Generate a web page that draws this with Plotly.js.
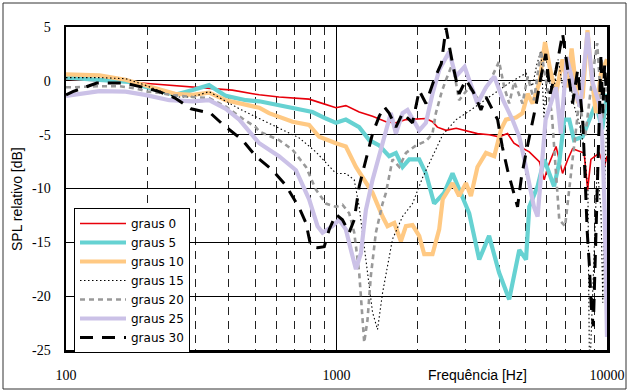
<!DOCTYPE html>
<html>
<head>
<meta charset="utf-8">
<script src="https://cdn.plot.ly/plotly-3.0.1.min.js"></script>
<style>
html,body{margin:0;padding:0;background:#fff;}
#chart{width:629px;height:392px;}
</style>
</head>
<body>
<div id="chart"></div>
<script>
// ---------- DATA ----------
const seriesNames = ['graus 0','graus 5','graus 10','graus 15','graus 20','graus 25','graus 30'];

const f0 = [100,130,166,200,294,412,490,518,613,792,863,995,1083,1213,1359,1523,1658,1806,2141,2264,2360,2540,2770,3010,3320,3670,3990,4290,4530,4740,5160,5620,5860,6040,6480,6850,7160,7460,8230,8480,8720,9360,9770,10000];
const v0 = [0.15,0.05,-0.1,-0.25,-0.55,-0.86,-1.2,-1.3,-1.5,-1.7,-2.0,-2.5,-2.3,-2.9,-3.3,-3.8,-3.9,-3.6,-3.5,-3.8,-4.3,-4.6,-4.4,-4.6,-4.9,-5.0,-5.2,-4.9,-5.8,-6.1,-6.6,-7.5,-9.2,-8.0,-6.1,-8.6,-7.3,-6.3,-6.7,-10.1,-7.3,-6.7,-8.0,-7.0];

const f5 = [100,133,171,196,253,294,338,390,463,518,613,728,815,914,995,1083,1213,1321,1438,1565,1658,1755,1857,2022,2141,2296,2500,2685,2885,3095,3370,3665,3990,4350,4740,5020,5160,5540,5860,6370,6660,6950,7250,7550,8120,8600,9100,9600,10000];
const v5 = [0.3,0.06,-0.1,-0.55,-1.3,-0.86,-0.4,-1.4,-1.8,-1.9,-2.25,-2.7,-2.9,-3.5,-3.9,-3.6,-4.3,-5.5,-6.0,-7.0,-6.7,-8.0,-7.3,-7.3,-8.6,-11.4,-10.4,-8.6,-10.4,-12.3,-16.6,-14.4,-17.8,-20.3,-15.7,-16.6,-11.7,-9.8,-7.3,-9.8,-7.6,-3.6,-3.6,-5.5,-5.2,-3.6,-2.1,-4.5,-1.2];

const f10 = [100,133,166,196,253,294,338,390,463,518,563,688,792,863,995,1083,1180,1284,1359,1480,1544,1635,1730,1806,1910,2022,2110,2264,2397,2470,2685,2840,3010,3140,3320,3570,3830,4060,4230,4610,4870,5090,5310,5620,5900,6170,6480,6850,7160,7400,7790,8130,8470,8720,9100,9500,9900,10000];
const v10 = [0.6,0.5,0.1,-0.4,-1.2,-1.3,-1.1,-1.8,-2.25,-2.5,-3.0,-3.8,-4.1,-5.2,-5.8,-6.1,-8.0,-9.5,-10.4,-12.6,-13.5,-13.2,-14.9,-13.5,-13.4,-14.4,-16.1,-16.1,-13.8,-11.0,-9.5,-10.7,-9.5,-10.7,-8.0,-6.7,-7.0,-4.5,-3.6,-3.4,-3.0,-1.2,-2.1,-0.2,3.6,1.0,-1.2,2.0,-0.6,3.0,-1.8,-1.5,4.7,1.0,-3.0,0.7,1.9,2.0];

const f15 = [100,133,166,196,253,294,338,390,437,518,613,728,839,914,995,1083,1163,1213,1266,1321,1359,1418,1480,1544,1611,1755,1910,2080,2264,2470,2770,3100,3670,4000,4350,4700,5020,5300,5500,5700,5850,6000,6300,6600,6900,7200,7500,7900,8200,8500,8600,8700,8900,9200,9500,9650,9800,10000];
const v15 = [0.3,0.3,0.2,-0.4,-1.5,-1.5,-1.0,-1.9,-2.6,-3.5,-4.4,-5.3,-6.6,-7.6,-8.6,-8.6,-9.2,-11.7,-15.4,-19.4,-21.5,-23.1,-19.7,-17.2,-14.7,-12.6,-11.4,-9.0,-7.0,-5.0,-3.6,-2.8,-1.5,-0.8,-0.2,0.3,0.7,-0.5,1.5,2.8,-3.5,1.0,-1.5,2.0,-1.0,1.5,-2.0,-4.0,-6.0,-10.0,-25.0,-25.0,-18.0,-8.0,-12.0,-20.6,-10.0,-3.0];

const f20 = [100,106,130,158,180,200,221,241,294,338,390,449,503,518,613,688,771,839,914,995,1052,1114,1163,1213,1266,1302,1340,1398,1480,1523,1611,1706,1806,1966,2141,2264,2330,2450,2540,2685,2840,3095,3370,3715,3990,4170,4350,4540,4870,5090,5370,5700,5940,6250,6660,7000,7460,7900,8300,8800,9200,9600,10000];
const v20 = [-0.6,-0.6,-0.5,-0.5,-0.7,-1.0,-1.1,-1.3,-1.5,-1.6,-2.4,-3.5,-4.3,-4.7,-5.5,-6.4,-8.0,-10.1,-11.4,-11.7,-11.5,-12.3,-14.1,-17.8,-24.3,-22.2,-18.1,-14.1,-11.4,-10.4,-7.3,-8.0,-6.7,-6.0,-5.6,-4.9,-3.0,-1.0,0.1,1.6,-1.8,-0.6,-1.8,0.1,1.8,-0.6,-2.1,-0.1,-2.1,0.4,-1.8,2.8,0.1,-3.0,-12.9,-13.5,-7.3,-1.8,-5.2,0.1,3.5,-3.6,-0.6];

const f25 = [100,133,166,196,241,294,338,390,437,463,518,613,708,792,851,888,966,1023,1083,1130,1180,1231,1284,1359,1438,1523,1588,1658,1755,1830,2022,2141,2264,2397,2610,2760,2975,3320,3570,3830,4130,4470,4740,4950,5370,5540,5700,5930,6480,6750,7100,7550,7960,8470,8850,9350,9600,9800,10000];
const v25 = [-1.4,-0.95,-1.0,-1.3,-1.8,-1.9,-1.8,-2.6,-3.6,-4.4,-5.8,-7.0,-8.3,-11.0,-13.5,-14.1,-13.5,-12.9,-13.8,-15.7,-17.5,-16.0,-12.0,-9.2,-7.0,-4.9,-3.0,-4.9,-3.0,-2.7,-4.6,-3.9,-1.2,1.0,2.7,0.4,1.3,-2.1,-0.6,0.4,-1.8,-3.6,-5.2,-7.3,-11.7,-12.6,-8.9,-3.6,-0.6,-4.9,2.2,-0.6,-2.4,4.5,-0.2,-2.1,-5.2,-12.0,-23.8];

const f30 = [100,106,130,163,193,221,253,290,342,382,449,503,580,650,728,771,804,851,901,940,995,1052,1114,1163,1213,1284,1359,1438,1500,1565,1658,1755,1910,2022,2141,2295,2440,2540,2685,2840,3010,3200,3420,3570,3940,4100,4290,4670,4830,5020,5240,5480,5700,5940,6170,6480,6850,7160,7460,7790,8130,8300,8450,8600,8750,8900,9050,9200,9350,9500,9650,9800,10000];
const v30 = [-1.3,-1.0,-0.2,-0.2,-0.6,-1.0,-1.6,-2.6,-3.0,-4.1,-5.5,-7.0,-8.3,-9.7,-11.8,-13.2,-15.4,-15.5,-15.4,-13.8,-12.4,-12.9,-14.1,-12.9,-9.8,-7.3,-4.9,-3.3,-2.4,-3.0,-4.3,-3.0,-3.9,-0.9,-2.1,0.1,1.6,4.9,1.6,-1.2,0.1,-1.0,-2.7,-1.5,-3.6,-6.1,-8.3,-11.7,-8.9,-6.7,-4.6,-2.1,0.4,2.5,-1.2,1.0,4.4,1.0,-2.1,1.0,-3.6,-9.0,-14.0,-17.0,-21.0,-22.8,-17.0,-10.0,-4.0,2.5,-3.0,1.5,-2.0];

const xTickVals = [100,1000,10000];
const xTickText = ['100','1000','10000'];
const yTickVals = [-25,-20,-15,-10,-5,0,5];
const yTickText = ['-25','-20','-15','-10','-5','0','5'];

// ---------- STYLES ----------
const freqs = [f0,f5,f10,f15,f20,f25,f30];
const vals = [v0,v5,v10,v15,v20,v25,v30];
const styles = [
  {color:'#E8000B', width:1.6, dash:'solid'},
  {color:'#66D2D2', width:4.2, dash:'solid'},
  {color:'#FFC983', width:4.2, dash:'solid'},
  {color:'#000000', width:1.1, dash:'1.5px,2.5px'},
  {color:'#999999', width:2.6, dash:'5px,4px'},
  {color:'#CBC1E7', width:4.2, dash:'solid'},
  {color:'#000000', width:3.0, dash:'13px,9px'}
];

const traces = seriesNames.map((n,i)=>({
  type:'scatter', mode:'lines', name:n,
  x:freqs[i], y:vals[i],
  line:{color:styles[i].color, width:styles[i].width, dash:styles[i].dash}
}));

const minorVals = [];
[100,1000].forEach(d=>{for(let k=2;k<=9;k++) minorVals.push(k*d);});

const L=66, R=607, T=27, B=350, W=629, H=392;
const pw=R-L, ph=B-T;
const px=(x)=>(x-L)/pw, py=(y)=>(B-y)/ph;

const layout = {
  width:W, height:H,
  margin:{l:L, r:W-R, t:T, b:H-B, pad:0},
  paper_bgcolor:'#ffffff', plot_bgcolor:'#ffffff',
  showlegend:true,
  xaxis:{
    type:'log', range:[2,4],
    tickmode:'array', tickvals:xTickVals, ticktext:xTickText,
    ticks:'', ticklabelstandoff:11,
    tickfont:{family:'Liberation Serif, Times New Roman, serif', size:14, color:'#000'},
    showgrid:true, gridcolor:'#000', gridwidth:1,
    minor:{tickmode:'array', tickvals:minorVals, showgrid:true, gridcolor:'#222', gridwidth:1, griddash:'8px,6px', ticks:''},
    showline:true, linecolor:'#000', linewidth:2.5, mirror:true,
    zeroline:false, fixedrange:true
  },
  yaxis:{
    range:[-25,5],
    tickmode:'array', tickvals:yTickVals, ticktext:yTickText,
    ticks:'', ticklabelstandoff:10,
    tickfont:{family:'Liberation Serif, Times New Roman, serif', size:14, color:'#000'},
    showgrid:true, gridcolor:'#000', gridwidth:1,
    showline:true, linecolor:'#000', linewidth:2.5, mirror:true,
    zeroline:false, fixedrange:true
  },
  legend:{
    x:px(74), y:py(208), xanchor:'left', yanchor:'top',
    bgcolor:'#ffffff', bordercolor:'#000', borderwidth:1,
    font:{family:'DejaVu Sans, Arial, sans-serif', size:12, color:'#000'},
    itemwidth:46, tracegroupgap:0
  },
  annotations:[
    {text:'SPL relativo [dB]', xref:'paper', yref:'paper', x:px(17), y:py(199), textangle:-90,
     showarrow:false, xanchor:'center', yanchor:'middle',
     font:{family:'Liberation Sans, Arial, sans-serif', size:14, color:'#000'}},
    {text:'Frequência [Hz]', xref:'paper', yref:'paper', x:px(477), y:py(375),
     showarrow:false, xanchor:'center', yanchor:'middle',
     font:{family:'Liberation Sans, Arial, sans-serif', size:14, color:'#000'}}
  ],
  shapes:[
    {type:'rect', xref:'paper', yref:'paper', x0:px(3), x1:px(626), y0:py(389), y1:py(3),
     line:{color:'#333', width:1}, fillcolor:'rgba(0,0,0,0)', layer:'below'}
  ]
};

Plotly.newPlot('chart', traces, layout, {staticPlot:true, displayModeBar:false});
</script>
</body>
</html>
